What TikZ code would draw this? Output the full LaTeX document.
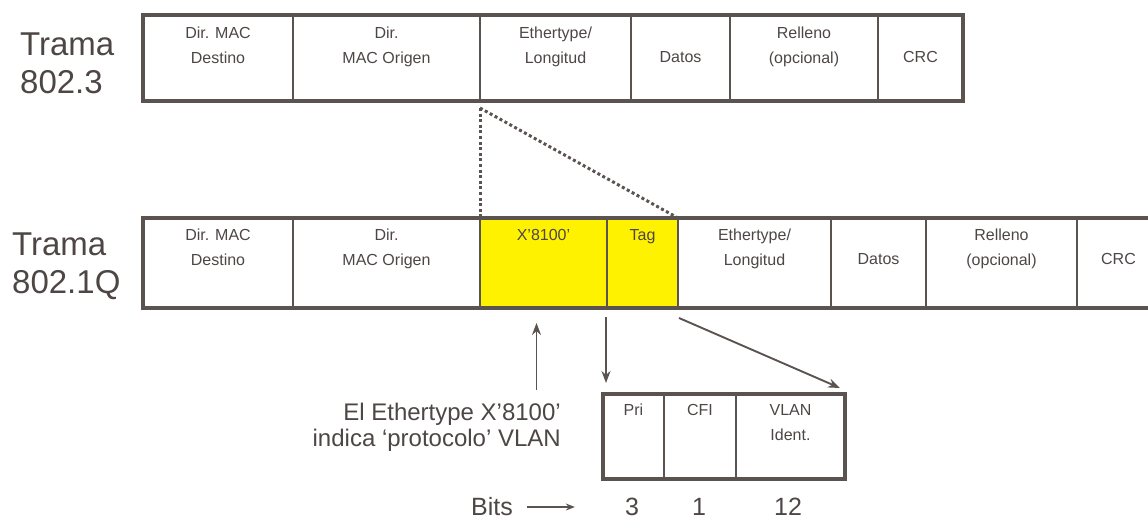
\documentclass[tikz,border=0pt]{standalone}
\usepackage{fontspec}
\setmainfont{Liberation Sans}
\usetikzlibrary{arrows.meta,positioning}
\definecolor{framec}{HTML}{5B5350}
\definecolor{textc}{HTML}{4D4645}
\definecolor{tagyellow}{HTML}{FFF200}

\begin{document}
\begin{tikzpicture}[x=1pt,y=-1pt,
  cell/.style={draw=framec,line width=1.4pt,anchor=north west,inner sep=0pt,outer sep=0pt},
  framebox/.style={draw=framec,line width=3.4pt},
  celltext/.style={text=textc,font=\fontsize{16}{25}\selectfont,align=center,anchor=north,inner sep=0pt},
  title/.style={text=textc,font=\fontsize{33}{38}\selectfont,align=left,anchor=north west,inner sep=0pt},
  note/.style={text=textc,font=\fontsize{24}{26}\selectfont,align=right,anchor=north east,inner sep=0pt},
  bitsnum/.style={text=textc,font=\fontsize{25}{30}\selectfont,inner sep=0pt},
  arr/.style={draw=framec,line width=1.9pt,-{Stealth[length=12pt,width=9pt]}},
  thinarr/.style={draw=framec,line width=1.4pt,-{Stealth[length=9pt,width=7pt]}},
  dots/.style={draw=framec,line width=3pt,dash pattern=on 3pt off 2.6pt}]
 \useasboundingbox (0,0) rectangle (1148,521);
 \clip (0,0) rectangle (1148,521);

 % Trama 802.3
 \node[title] (t1) at (20,33) {Trama\\802.3};
 \node[cell,minimum width=150pt,minimum height=86pt] (adst) at (143,15) {};
 \node[cell,minimum width=187pt,minimum height=86pt] (aorg) at (adst.north east) {};
 \node[cell,minimum width=151pt,minimum height=86pt] (aeth) at (aorg.north east) {};
 \node[cell,minimum width=99pt,minimum height=86pt] (adat) at (aeth.north east) {};
 \node[cell,minimum width=148pt,minimum height=86pt] (arel) at (adat.north east) {};
 \node[cell,minimum width=85pt,minimum height=86pt] (acrc) at (arel.north east) {};
 \draw[framebox] (adst.north west) rectangle (acrc.south east);
 \node[celltext] at ([yshift=-12pt]adst.north) {Dir. MAC\\Destino};
 \node[celltext] at ([yshift=-12pt]aorg.north) {Dir.\\MAC Origen};
 \node[celltext] at ([yshift=-12pt]aeth.north) {Ethertype/\\Longitud};
 \node[celltext] at ([yshift=-36pt]adat.north) {Datos};
 \node[celltext] at ([yshift=-12pt]arel.north) {Relleno\\(opcional)};
 \node[celltext] at ([yshift=-36pt]acrc.north) {CRC};

 % Trama 802.1Q
 \node[title] (t2) at (12,233) {Trama\\802.1Q};
 \node[cell,minimum width=150pt,minimum height=90pt] (bdst) at (143,218) {};
 \node[cell,minimum width=187pt,minimum height=90pt] (borg) at (bdst.north east) {};
 \node[cell,fill=tagyellow,minimum width=127pt,minimum height=90pt] (bx) at (borg.north east) {};
 \node[cell,fill=tagyellow,minimum width=71pt,minimum height=90pt] (btag) at (bx.north east) {};
 \node[cell,minimum width=153pt,minimum height=90pt] (beth) at (btag.north east) {};
 \node[cell,minimum width=95pt,minimum height=90pt] (bdat) at (beth.north east) {};
 \node[cell,minimum width=151pt,minimum height=90pt] (brel) at (bdat.north east) {};
 \node[cell,minimum width=83pt,minimum height=90pt] (bcrc) at (brel.north east) {};
 \draw[framebox] (bdst.north west) rectangle (bcrc.south east);
 \draw[framebox,line width=2.6pt] (btag.north east) -- (btag.south east);
 \node[celltext] at ([yshift=-11pt]bdst.north) {Dir. MAC\\Destino};
 \node[celltext] at ([yshift=-11pt]borg.north) {Dir.\\MAC Origen};
 \node[celltext] at ([yshift=-11pt]bx.north) {X’8100’};
 \node[celltext] at ([yshift=-11pt]btag.north) {Tag};
 \node[celltext] at ([yshift=-11pt]beth.north) {Ethertype/\\Longitud};
 \node[celltext] at ([yshift=-35pt]bdat.north) {Datos};
 \node[celltext] at ([yshift=-11pt]brel.north) {Relleno\\(opcional)};
 \node[celltext] at ([yshift=-35pt]bcrc.north) {CRC};

 % expansion of the tag
 \draw[dots] ([yshift=-7pt]aeth.south west) -- (bx.north west);
 \draw[dots] ([yshift=-7pt]aeth.south west) -- (btag.north east);

 % tag fields
 \node[cell,minimum width=61pt,minimum height=85pt] (cpri) at (603,394) {};
 \node[cell,minimum width=72pt,minimum height=85pt] (ccfi) at (cpri.north east) {};
 \node[cell,minimum width=109pt,minimum height=85pt] (cvlan) at (ccfi.north east) {};
 \draw[framebox] (cpri.north west) rectangle (cvlan.south east);
 \node[celltext] at ([yshift=-10pt]cpri.north) {Pri};
 \node[celltext] at ([yshift=-10pt]ccfi.north) {CFI};
 \node[celltext] at ([yshift=-10pt]cvlan.north) {VLAN\\Ident.};

 \node[note] (nota) at (561,403) {El Ethertype X’8100’\\indica ‘protocolo’ VLAN};
 \draw[arr] ([xshift=-7pt,yshift=-82pt]bx.south) -- ([xshift=-7pt,yshift=-15pt]bx.south);
 \draw[arr] ([xshift=-1pt,yshift=-9pt]btag.south west) -- ([xshift=-1pt,yshift=-75pt]btag.south west);
 \draw[arr] ([xshift=1pt,yshift=-10pt]btag.south east) -- ([xshift=-5pt,yshift=6pt]cvlan.north east);

 % bits
 \node[bitsnum] (bits) at (492,507) {Bits};
 \node[bitsnum] (b3) at (632,507) {3};
 \node[bitsnum] (b1) at (699,507) {1};
 \node[bitsnum] (b12) at (788,507) {12};
 \draw[thinarr] ([xshift=14pt]bits.east) -- ([xshift=-50pt]b3.west);
\end{tikzpicture}
\end{document}
